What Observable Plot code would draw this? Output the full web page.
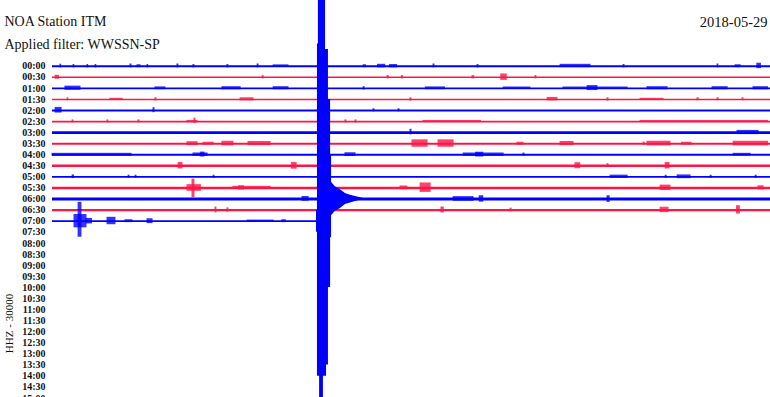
<!DOCTYPE html>
<html><head><meta charset="utf-8">
<script src="https://cdn.jsdelivr.net/npm/d3@7"></script>
<script src="https://cdn.jsdelivr.net/npm/@observablehq/plot@0.6"></script>
<style>html,body{margin:0;padding:0;background:#fff;overflow:hidden}</style>
</head><body><div id="chart"></div>
<script>
// ---- data ----
const stationTitle = "NOA Station ITM";
const filterTitle = "Applied filter: WWSSN-SP";
const dateLabel = "2018-05-29";
const channelLabel = "HHZ - 30000";

// row labels (30-minute rows)
const timeLabels = ["00:00","00:30","01:00","01:30","02:00","02:30","03:00","03:30","04:00","04:30",
  "05:00","05:30","06:00","06:30","07:00","07:30","08:00","08:30","09:00","09:30","10:00","10:30",
  "11:00","11:30","12:00","12:30","13:00","13:30","14:00","14:30","15:00"];

// background noise level of each recorded row (in row-spacing units)
const traceNoise = [0.085,0.07,0.085,0.07,0.085,0.08,0.12,0.085,0.1,0.11,0.085,0.11,0.13,0.1,0.085];
// minute at which the last (current) row stops
const lastTraceEnd = 11.07;

// bursts: [row, startMinute, endMinute, amplitude up, amplitude down] (row-spacing units)
const bursts = [
  [0,0.33,0.36,.18,.15],[0,0.88,0.91,.15,.15],[0,1.46,1.49,.15,.15],[0,1.80,1.83,.15,.15],
  [0,3.26,3.30,.2,.15],[0,3.55,3.68,.13,.13],[0,3.97,4.00,.15,.15],[0,5.22,5.26,.2,.15],
  [0,5.89,5.93,.15,.15],[0,7.31,7.35,.15,.15],[0,8.57,8.61,.2,.15],[0,9.24,9.86,.12,.1],
  [0,13.0,13.1,.13,.13],[0,13.6,13.9,.17,.15],[0,14.1,14.4,.15,.15],[0,15.92,15.96,.2,.15],
  [0,17.76,17.8,.15,.15],[0,21.23,22.48,.17,.13],[0,23.86,23.9,.15,.15],[0,27.79,27.82,.2,.15],
  [0,28.54,28.75,.13,.13],[0,29.45,29.6,.27,.22],
  [1,0.13,0.27,.18,.18],[1,8.78,8.82,.15,.15],[1,14.0,14.05,.15,.15],[1,14.6,14.65,.15,.15],
  [1,17.55,17.62,.15,.15],[1,18.75,18.98,.3,.28],[1,20.18,20.22,.15,.15],
  [2,0.54,1.17,.2,.18],[2,4.30,4.72,.13,.12],[2,7.10,7.86,.15,.13],[2,9.24,9.86,.15,.13],
  [2,13.0,13.04,.15,.15],[2,15.6,16.4,.13,.12],[2,18.85,19.97,.12,.1],[2,21.35,24.03,.12,.1],
  [2,22.36,22.77,.25,.2],[2,24.86,25.70,.15,.13],[2,27.58,28.21,.15,.13],[2,29.29,29.9,.15,.13],
  [3,0.63,0.66,.15,.12],[3,2.42,2.93,.1,.1],[3,4.30,4.34,.15,.15],[3,7.86,8.40,.15,.13],
  [3,14.96,15.0,.15,.15],[3,20.69,21.10,.18,.13],[3,23.19,23.23,.15,.15],[3,24.57,25.53,.1,.09],
  [3,26.95,27.0,.15,.12],[3,27.79,27.83,.15,.12],[3,28.83,28.87,.15,.12],
  [4,0.13,0.38,.28,.23],[4,4.22,4.26,.25,.2],[4,13.41,13.45,.15,.12],[4,14.46,14.5,.15,.12],
  [5,0.84,0.87,.15,.12],[5,2.30,2.33,.15,.12],[5,3.59,3.63,.15,.12],[5,5.64,6.06,.1,.1],
  [5,5.93,5.97,.3,.15],[5,12.24,12.28,.15,.12],[5,12.66,12.7,.15,.12],[5,15.5,17.9,.1,.09],
  [5,24.57,29.9,.1,.09],
  [6,14.96,15.0,.3,.2],[6,28.62,29.5,.2,.18],
  [7,5.64,6.06,.18,.18],[7,6.31,6.73,.13,.13],[7,7.10,7.56,.22,.2],[7,8.19,9.11,.2,.18],
  [7,15.04,15.67,.35,.32],[7,16.13,16.76,.35,.32],[7,19.43,19.68,.13,.13],[7,21.23,21.77,.2,.18],
  [7,24.70,24.74,.15,.15],[7,24.86,25.82,.22,.2],[7,26.3,26.7,.13,.13],[7,28.46,29.9,.22,.2],
  [8,0,3.3,.13,.13],[8,5.89,6.48,.16,.14],[8,6.2,6.35,.24,.2],[8,12.24,12.66,.18,.16],
  [8,17.18,18.85,.16,.14],[8,17.7,18.0,.23,.2],[8,19.68,19.72,.15,.12],[8,28.46,29.17,.13,.11],
  [9,5.27,5.43,.3,.28],[9,10.0,10.2,.3,.3],[9,21.85,22.05,.28,.26],[9,23.19,23.23,.2,.15],
  [9,25.62,25.78,.3,.28],
  [10,0.84,0.9,.18,.15],[10,3.18,3.22,.15,.12],[10,3.47,3.51,.15,.12],[10,6.73,6.77,.15,.12],
  [10,23.32,24.03,.16,.13],[10,25.62,25.66,.15,.12],[10,26.12,26.66,.18,.16],[10,27.50,27.54,.15,.12],
  [10,29.38,29.42,.15,.12],
  [11,5.64,6.2,.3,.3],[11,5.85,5.93,.8,.9],[11,7.56,9.11,.15,.13],[11,7.8,8.0,.2,.18],
  [11,14.54,14.83,.18,.16],[11,15.38,15.8,.45,.4],[11,25.41,25.82,.26,.23],[11,29.5,29.71,.2,.18],
  [12,10.45,10.70,.23,.2],[12,16.76,17.59,.22,.2],[12,17.85,18.0,.3,.28],[12,23.19,23.28,.3,.3],
  [13,6.81,6.85,.28,.25],[13,7.31,7.35,.2,.18],[13,16.25,16.35,.28,.25],[13,19.14,19.18,.18,.15],
  [13,25.41,25.74,.26,.23],[13,28.6,28.72,.4,.35],
  [14,0.92,1.42,.6,.6],[14,1.09,1.21,1.7,1.45],[14,1.42,1.65,.25,.25],[14,2.30,2.63,.35,.32],
  [14,3.05,3.34,.13,.13],[14,3.97,4.18,.22,.22],[14,8.15,9.24,.1,.1],[14,9.6,9.75,.13,.13]
];

// main earthquake at the end of the 07:00 row (clipped, saturates the whole drum)
const quakeRow = 14;
const quakeTime = [11.03, 11.07, 11.11, 11.16, 11.32, 11.41, 11.45, 11.53, 11.62, 11.66];
const quakeUp   = [1.0,   16,    20,    20,    20,    15.5,  15.5,  11,    6,     0];
const quakeDown = [1.0,   14,    14,    17,    14,    14,    13,    6,     1.5,   0];

// decaying coda drawn on the 06:00 row
const codaRow = 12;
const codaTime = [11.53, 11.62, 11.82, 12.03, 12.24, 12.45, 12.66, 12.87, 13.0];
const codaAmp  = [1.8,   1.6,   1.1,   0.85,  0.5,   0.35,  0.22,  0.12,  0.05];

// ---- tables built from the arrays ----
const keyOf = i => timeLabels[i].slice(3);
const traces = traceNoise.map((n, i) => ({
  line: i, key: keyOf(i), noise: n, end: i === traceNoise.length - 1 ? lastTraceEnd : 30
}));
const burstRows = bursts.map(([line, m0, m1, up, down]) => ({line, m0, m1, up, down, key: keyOf(line)}));
const quakeRows = quakeTime.map((t, i) => ({t, up: quakeUp[i], down: quakeDown[i], key: keyOf(quakeRow)}));
const codaRows = codaTime.map((t, i) => ({t, a: codaAmp[i], key: keyOf(codaRow)}));

const chart = Plot.plot({
  width: 770, height: 397,
  marginLeft: 52, marginRight: 0, marginTop: 0, marginBottom: 0,
  style: {fontFamily: "'Liberation Serif', serif", background: "#fff", overflow: "hidden"},
  x: {domain: [0, 30], axis: null},
  y: {domain: [0, 30], range: [65.7, 65.7 + 11.07 * 30]},
  color: {domain: ["00", "30"], range: ["#0000ff", "#ff1446"]},
  marks: [
    Plot.axisY(d3.range(timeLabels.length), {
      anchor: "left", tickSize: 0, tickPadding: 7, label: null,
      tickFormat: i => timeLabels[i], fontSize: 10, fontWeight: "bold", fill: "#111"
    }),
    Plot.ruleY(traces, {y: "line", x1: 0, x2: "end", stroke: "key", strokeWidth: d => d.noise * 22}),
    Plot.rect(burstRows, {
      x1: "m0", x2: "m1", y1: d => d.line - d.up, y2: d => d.line + d.down,
      fill: "key", fillOpacity: 0.8, insetLeft: -0.5, insetRight: -0.5
    }),
    Plot.areaY(codaRows, {x: "t", y1: d => codaRow - d.a, y2: d => codaRow + d.a, fill: "key"}),
    Plot.areaY(quakeRows, {
      x: "t", y1: d => quakeRow - d.up, y2: d => quakeRow + d.down,
      curve: "step-after", fill: "key", clip: true
    }),
    Plot.text([stationTitle], {frameAnchor: "top-left", dx: -48, dy: 25.5, lineAnchor: "bottom", textAnchor: "start", fontSize: 14, fill: "#111"}),
    Plot.text([filterTitle], {frameAnchor: "top-left", dx: -48, dy: 48.5, lineAnchor: "bottom", textAnchor: "start", fontSize: 14, fill: "#111"}),
    Plot.text([dateLabel], {frameAnchor: "top-right", dx: -3, dy: 26, lineAnchor: "bottom", textAnchor: "end", fontSize: 14.5, fill: "#111"}),
    Plot.text([channelLabel], {frameAnchor: "left", dx: -43.5, dy: 124.5, rotate: -90, textAnchor: "middle", fontSize: 11, fill: "#111"})
  ]
});
document.getElementById("chart").appendChild(chart);
</script>
</body></html>
